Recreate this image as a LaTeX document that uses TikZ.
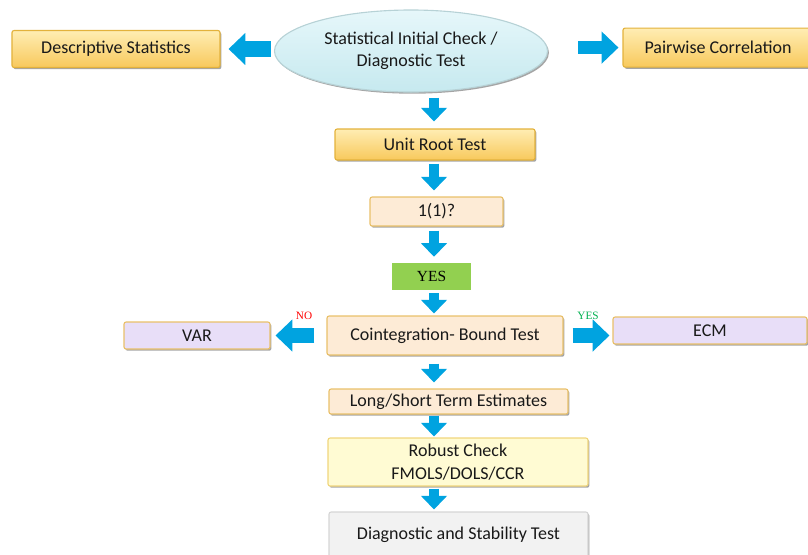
\documentclass[tikz,border=0pt]{standalone}
\usepackage{fontspec}
\setmainfont{Carlito}
\newfontfamily\timesfont{Liberation Serif}
\usetikzlibrary{arrows.meta,positioning,shapes.geometric,shadows}

\definecolor{flowblue}{HTML}{00A3E0}
\definecolor{goldtop}{HTML}{FFEDB3}
\definecolor{goldbot}{HTML}{F8C95C}
\definecolor{goldline}{HTML}{E3B23C}
\definecolor{peachfill}{HTML}{FDEBD6}
\definecolor{peachline}{HTML}{E9C06A}
\definecolor{lilacfill}{HTML}{E8DEF8}
\definecolor{creamfill}{HTML}{FFFBD3}
\definecolor{creamline}{HTML}{F0D67C}
\definecolor{greyfill}{HTML}{F2F2F2}
\definecolor{greyline}{HTML}{D6D6D6}
\definecolor{skytop}{HTML}{E6F7FA}
\definecolor{skybot}{HTML}{C6E9EF}
\definecolor{skyline}{HTML}{B7D2D6}
\definecolor{yesgreen}{HTML}{92D050}
\definecolor{labelgreen}{HTML}{00B050}

\begin{document}
\begin{tikzpicture}[box/.style={rectangle,rounded corners=1.5pt,line width=0.8pt,inner sep=0pt,align=center,
    font=\fontsize{12.8}{16}\selectfont,text=black!90,
    drop shadow={shadow xshift=1pt,shadow yshift=-1.2pt,opacity=0.5,fill=black!70}},
  gold/.style={box,draw=goldline,top color=goldtop,bottom color=goldbot},
  peach/.style={box,draw=peachline,fill=peachfill},
  lilac/.style={box,draw=peachline,fill=lilacfill},
  cream/.style={box,draw=creamline,fill=creamfill},
  grey/.style={box,draw=greyline,fill=greyfill},
  flow/.style={draw=flowblue,line width=6.8pt,
    -{Triangle[width=18.5pt,length=9.6pt,line width=0pt,fill=flowblue]}},
  sideflow/.style={draw=flowblue,line width=11pt,
    -{Triangle[width=23pt,length=12pt,line width=0pt,fill=flowblue]}},
  answer/.style={font=\timesfont\fontsize{8}{9}\selectfont,inner sep=0pt}]
  \useasboundingbox (0,0) rectangle (20.2,-13.85);
  \clip (0,0) rectangle (20.2,-13.85);

  % Top row
  \node[box,ellipse,draw=skyline,top color=skytop,bottom color=skybot,
    minimum width=6.825cm,minimum height=2.05cm] (check) at (10.275,-1.275)
    {Statistical Initial Check /\\Diagnostic Test};
  \node[gold,minimum width=5.2cm,minimum height=0.925cm] (desc) at (2.9,-1.225) {Descriptive Statistics};
  \node[gold,minimum width=4.75cm,minimum height=0.975cm] (pair) at (17.95,-1.19) {Pairwise Correlation};

  % Main column
  \coordinate (spine) at (10.85,0);
  \node[gold,minimum width=5cm,minimum height=0.775cm] (unitroot) at (10.875,-3.6125) {Unit Root Test};
  \node[peach,minimum width=3.325cm,minimum height=0.725cm] (order) at (10.9125,-5.2875) {1(1)?};
  \node[fill=yesgreen,minimum width=1.975cm,minimum height=0.675cm,inner sep=0pt,
    font=\timesfont\fontsize{11}{13}\selectfont] (yes) at (10.7875,-6.9125) {YES};
  \node[peach,minimum width=5.9cm,minimum height=0.975cm] (coint) at (11.125,-8.3875) {Cointegration- Bound Test};
  \node[lilac,minimum width=3.65cm,minimum height=0.675cm] (var) at (4.925,-8.3875) {VAR};
  \node[lilac,minimum width=4.85cm,minimum height=0.675cm] (ecm) at (17.75,-8.2625) {ECM};
  \node[peach,minimum width=5.975cm,minimum height=0.625cm] (estim) at (11.2125,-10.0375) {Long/Short Term Estimates};
  \node[cream,minimum width=6.5cm,minimum height=1.2cm] (robust) at (11.45,-11.55) {Robust Check\\FMOLS/DOLS/CCR};
  \node[grey,minimum width=6.475cm,minimum height=1.15cm] (stab) at (11.4625,-13.375) {Diagnostic and Stability Test};

  % Side arrows
  \draw[sideflow,shorten <=0.075cm,shorten >=0.2cm] (check.west |- desc.east) -- (desc.east);
  \draw[sideflow,line width=9pt,shorten <=0.75cm,shorten >=0.1cm] (check.east |- pair.west) -- (pair.west);
  \draw[sideflow,shorten <=0.3cm,shorten >=0.125cm] (coint.west) -- node[answer,pos=0.4,above=0.2cm,text=red] {NO} (coint.west -| var.east);
  \draw[sideflow,shorten <=0.225cm,shorten >=0.075cm] (coint.east) -- node[answer,pos=0.5,above=0.2cm,text=labelgreen] {YES} (coint.east -| ecm.west);

  % Down arrows
  \draw[flow,shorten <=0.125cm,shorten >=0.175cm] (check.south -| spine) -- (unitroot.north -| spine);
  \draw[flow,shorten <=0.075cm,shorten >=0.15cm] (unitroot.south -| spine) -- (order.north -| spine);
  \draw[flow,shorten <=0.1cm,shorten >=0.15cm] (order.south -| spine) -- (yes.north -| spine);
  \draw[flow,shorten <=0.075cm,shorten >=0.05cm] (yes.south -| spine) -- (coint.north -| spine);
  \draw[flow,shorten <=0.2cm,shorten >=0.15cm] (coint.south -| spine) -- (estim.north -| spine);
  \draw[flow,shorten <=0.025cm,shorten >=0.025cm] (estim.south -| spine) -- (robust.north -| spine);
  \draw[flow,shorten <=0.05cm,shorten >=0.05cm] (robust.south -| spine) -- (stab.north -| spine);
\end{tikzpicture}
\end{document}
